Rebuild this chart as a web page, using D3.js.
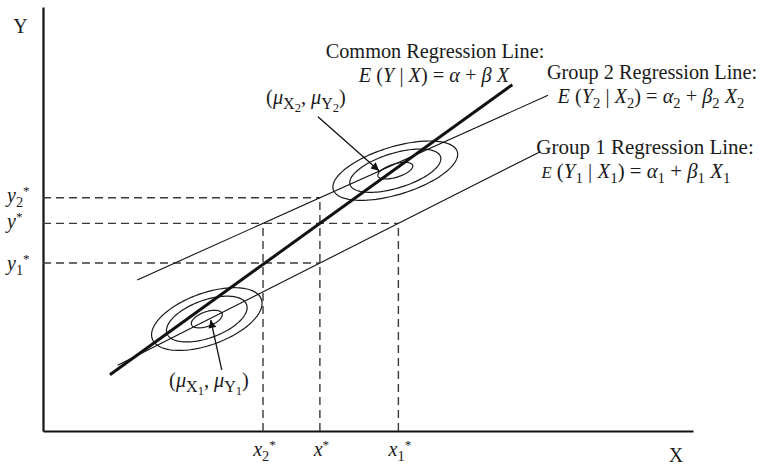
<!DOCTYPE html>
<html>
<head>
<meta charset="utf-8">
<script src="https://cdn.jsdelivr.net/npm/d3@7"></script>
<style>
  body { margin: 0; background: #fff; }
  text { font-family: "Liberation Serif", "Times New Roman", serif; fill: #1a1a1a; }
</style>
</head>
<body>
<svg id="chart" width="760" height="466"></svg>
<script>
// Regression lines: E(Y|X) = intercept + slope * X, drawn over [xFrom, xTo]
const lineNames  = ["common", "group2", "group1"];
const intercepts = [1.9, 25.65, 6.6];
const slopes     = [1.105, 0.689, 0.775];
const xFrom      = [10.3, 14.5, 11.5];
const xTo        = [72.2, 77.7, 76.5];

// Chosen predictor value x*
const xStar = 42.6;

// Group means and spreads (bivariate normal contours)
const groupIds      = [1, 2];
const meanX         = [25.2, 54.2];
const meanY         = [26.4, 61.4];
const sdX           = [8.5, 9.6];
const sdY           = [7.4, 7.0];
const rho           = [0.5, 0.55];
const contourLevels = [1, 0.73, 0.28];

// Arrow from each mean label towards its group mean
const arrowTailX = [27.5, 42.3];
const arrowTailY = [14.4, 74.1];
const arrowTipX  = [25.8, 51.7];
const arrowTipY  = [26.2, 61.4];

// Labels on the axes
const yTickLabels = [["y", "2"], ["y", ""], ["y", "1"]];
const xTickLabels = [["x", "2"], ["x", ""], ["x", "1"]];

const svg = d3.select("#chart");
const FS = 20.3;

const x = d3.scaleLinear().domain([0, 100]).range([43, 693]);
const y = d3.scaleLinear().domain([0, 100]).range([431, 7]);

const lineFn = i => v => intercepts[i] + slopes[i] * v;
const invFn  = i => w => (w - intercepts[i]) / slopes[i];
const common = lineFn(0), g2 = lineFn(1), g1 = lineFn(2);

// Derived reference values
const yStar  = common(xStar);
const y1Star = g1(xStar);
const y2Star = g2(xStar);
const x1Star = invFn(2)(yStar);
const x2Star = invFn(1)(yStar);

// Rich text helper: parts = [text, italic, level, scale]; level 0 normal, 1 sub, 2 sub-sub, -1 sup
function rich(sel, parts, fs) {
  const sizes  = { "0": 1, "1": 0.72, "2": 0.56, "-1": 0.66 };
  const shifts = { "0": 0, "1": 0.24, "2": 0.38, "-1": -0.36 };
  let cur = 0;
  parts.forEach(([t, it, lvl, scale]) => {
    const s = shifts[lvl] * fs;
    sel.append("tspan")
      .attr("dy", s - cur)
      .attr("font-size", sizes[lvl] * fs * (scale || 1))
      .attr("font-style", it ? "italic" : "normal")
      .text(t);
    cur = s;
  });
  return sel;
}

// Axes (no ticks)
svg.append("g").attr("transform", `translate(0,${y(0)})`)
  .call(d3.axisBottom(x).tickValues([]).tickSizeOuter(0))
  .select(".domain").attr("stroke", "#111").attr("stroke-width", 2.2);
svg.append("g").attr("transform", `translate(${x(0)},0)`)
  .call(d3.axisLeft(y).tickValues([]).tickSizeOuter(0))
  .select(".domain").attr("stroke", "#111").attr("stroke-width", 2.2);

svg.append("text").attr("x", 20.5).attr("y", 33).attr("text-anchor", "middle")
  .attr("font-size", 20).text("Y");
svg.append("text").attr("x", 676).attr("y", 462).attr("text-anchor", "middle")
  .attr("font-size", 20).text("X");

// Dashed guide lines
const dashes = [
  [0, y2Star, xStar, y2Star],
  [0, yStar, x1Star, yStar],
  [0, y1Star, xStar, y1Star],
  [xStar, 0, xStar, y2Star],
  [x2Star, 0, x2Star, yStar],
  [x1Star, 0, x1Star, yStar]
];
svg.append("g").selectAll("line").data(dashes).join("line")
  .attr("x1", d => x(d[0])).attr("y1", d => y(d[1]))
  .attr("x2", d => x(d[2])).attr("y2", d => y(d[3]))
  .attr("stroke", "#3a3a3a").attr("stroke-width", 1.4)
  .attr("stroke-dasharray", "8,5");

// Axis value labels
const yVals = [y2Star, yStar, y1Star];
const yLabelDrop = [4, 5, 7];
yTickLabels.forEach((lab, i) => {
  const t = svg.append("text").attr("x", 7).attr("y", y(yVals[i]) + yLabelDrop[i]).attr("font-size", 20);
  const parts = [[lab[0], true, 0]];
  if (lab[1]) parts.push([lab[1], false, 1]);
  parts.push(["*", false, -1]);
  rich(t, parts, 20);
});
const xVals = [x2Star, xStar, x1Star];
xTickLabels.forEach((lab, i) => {
  const t = svg.append("text").attr("x", x(xVals[i]) + 1.5).attr("y", 456)
    .attr("text-anchor", "middle").attr("font-size", 20);
  const parts = [[lab[0], true, 0]];
  if (lab[1]) parts.push([lab[1], false, 1]);
  parts.push(["*", false, -1]);
  rich(t, parts, 20);
});

// Contour ellipses for each group
const contourPath = (g, k) => {
  const pts = d3.range(0, 361, 3).map(a => {
    const t = a * Math.PI / 180;
    const px = meanX[g] + k * sdX[g] * Math.cos(t);
    const py = meanY[g] + k * sdY[g] * (rho[g] * Math.cos(t) + Math.sqrt(1 - rho[g] * rho[g]) * Math.sin(t));
    return [x(px), y(py)];
  });
  return d3.line()(pts) + "Z";
};
const ellipses = [];
groupIds.forEach((id, g) => contourLevels.forEach(k => ellipses.push({ g, k })));
svg.append("g").selectAll("path").data(ellipses).join("path")
  .attr("d", d => contourPath(d.g, d.k))
  .attr("fill", "none").attr("stroke", "#1a1a1a").attr("stroke-width", 1.2);

// Regression lines
const lineWidths = [3, 1.1, 1.1];
svg.append("g").selectAll("line").data(lineNames).join("line")
  .attr("x1", (d, i) => x(xFrom[i])).attr("y1", (d, i) => y(lineFn(i)(xFrom[i])))
  .attr("x2", (d, i) => x(xTo[i])).attr("y2", (d, i) => y(lineFn(i)(xTo[i])))
  .attr("stroke", "#111").attr("stroke-width", (d, i) => lineWidths[i]);

// Arrows from mean labels to the group means
svg.append("defs").append("marker")
  .attr("id", "head").attr("viewBox", "0 0 10 10")
  .attr("refX", 10).attr("refY", 5)
  .attr("markerWidth", 10).attr("markerHeight", 8)
  .attr("markerUnits", "userSpaceOnUse")
  .attr("orient", "auto")
  .append("path").attr("d", "M0,0 L10,5 L0,10 Z").attr("fill", "#111");

groupIds.forEach((id, g) => {
  svg.append("line")
    .attr("x1", x(arrowTailX[g])).attr("y1", y(arrowTailY[g]))
    .attr("x2", x(arrowTipX[g])).attr("y2", y(arrowTipY[g]))
    .attr("stroke", "#111").attr("stroke-width", 1.3)
    .attr("marker-end", "url(#head)");
});

// Mean labels (μX, μY)
const meanLabel = (g, cx, by) => {
  const t = svg.append("text").attr("x", cx).attr("y", by).attr("text-anchor", "middle").attr("font-size", FS);
  const n = String(groupIds[g]);
  rich(t, [["(", false, 0], ["μ", true, 0], ["X", false, 1, 1.1], [n, false, 2, 1.1],
           [", ", false, 0], ["μ", true, 0], ["Y", false, 1, 1.1], [n, false, 2, 1.1], [")", false, 0]], FS);
};
meanLabel(1, 306, 104);
meanLabel(0, 209, 387);

// Line titles and equations
const title = (txt, cx, by, fs) => svg.append("text").attr("x", cx).attr("y", by)
  .attr("text-anchor", "middle").attr("font-size", fs).text(txt);

title("Common Regression Line:", 435, 58, FS);
rich(svg.append("text").attr("x", 434).attr("y", 82).attr("text-anchor", "middle").attr("font-size", FS),
  [["E", true, 0], [" (", false, 0], ["Y", true, 0], [" | ", false, 0], ["X", true, 0],
   [") = ", false, 0], ["α", true, 0], [" + ", false, 0], ["β", true, 0], [" X", true, 0]], FS);

title("Group 2 Regression Line:", 652, 79, FS);
rich(svg.append("text").attr("x", 651).attr("y", 103).attr("text-anchor", "middle").attr("font-size", FS),
  [["E", true, 0], [" (", false, 0], ["Y", true, 0], ["2", false, 1], [" | ", false, 0], ["X", true, 0], ["2", false, 1],
   [") = ", false, 0], ["α", true, 0], ["2", false, 1], [" + ", false, 0], ["β", true, 0], ["2", false, 1],
   [" X", true, 0], ["2", false, 1]], FS);

title("Group 1 Regression Line:", 645, 154, 21);
rich(svg.append("text").attr("x", 636).attr("y", 178).attr("text-anchor", "middle").attr("font-size", 20.8),
  [["E", true, 0, 0.8], [" (", false, 0], ["Y", true, 0], ["1", false, 1], [" | ", false, 0], ["X", true, 0], ["1", false, 1],
   [") = ", false, 0], ["α", true, 0], ["1", false, 1], [" + ", false, 0], ["β", true, 0], ["1", false, 1],
   [" X", true, 0], ["1", false, 1]], 20.8);
</script>
</body>
</html>
